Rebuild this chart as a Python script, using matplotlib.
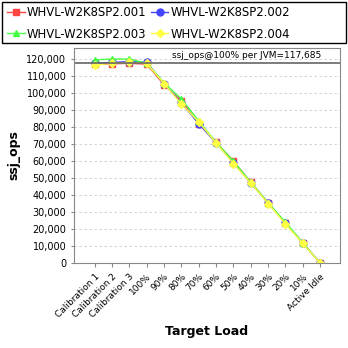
import matplotlib
matplotlib.use("Agg")
import matplotlib.pyplot as plt
from matplotlib.patches import Rectangle
from matplotlib.ticker import FuncFormatter

categories = ["Calibration 1", "Calibration 2", "Calibration 3", "100%", "90%", "80%",
              "70%", "60%", "50%", "40%", "30%", "20%", "10%", "Active Idle"]

ops_001 = [116800, 117200, 117500, 117000, 104800, 95300, 82000, 71000, 60000, 47500, 35500, 23500, 11800, 0]
ops_002 = [117500, 118000, 118500, 118000, 105500, 94000, 82000, 70500, 59000, 47000, 35300, 23500, 11800, 0]
ops_003 = [119500, 120000, 120000, 117500, 106000, 96500, 83500, 71000, 60000, 47500, 35500, 24000, 12000, 0]
ops_004 = [116500, 117500, 118000, 117500, 105500, 93500, 83000, 70500, 58500, 47000, 35000, 23000, 11500, 0]

series_names = ["WHVL-W2K8SP2.001", "WHVL-W2K8SP2.002", "WHVL-W2K8SP2.003", "WHVL-W2K8SP2.004"]
series_colors = ["#ff4444", "#4444ff", "#44ff44", "#ffff44"]
series_markers = ["s", "o", "^", "D"]
per_jvm = 117685

fig = plt.figure(figsize=(3.48, 3.48), dpi=100)
ax = fig.add_axes([74 / 348, 1 - 263 / 348, 266 / 348, 215 / 348])

x = list(range(len(categories)))
handles = []
for vals, name, col, mk in zip([ops_001, ops_002, ops_003, ops_004], series_names, series_colors, series_markers):
    ms = 4 if mk == "D" else 5
    h, = ax.plot(x, vals, color=col, marker=mk, markersize=ms, linewidth=1, label=name)
    handles.append(h)

ax.axhline(per_jvm, color="#666666", linewidth=1.2)
ax.text(13.05, per_jvm + 1500, "ssj_ops@100% per JVM=117,685", ha="right", va="bottom", fontsize=6.5)

ax.set_xlim(-1.2, 14.15)
ax.set_ylim(0, 126500)
ax.set_yticks(range(0, 120001, 10000))
ax.yaxis.set_major_formatter(FuncFormatter(lambda v, p: f"{int(v):,}"))
ax.set_xticks(x)
ax.set_xticklabels(categories, rotation=45, ha="right", rotation_mode="anchor", fontsize=6.5)
ax.tick_params(axis="y", labelsize=7, length=2, color="#888888")
ax.tick_params(axis="x", length=3, color="#888888")
ax.grid(True, axis="y", color="#cccccc", linestyle=(0, (3, 3)), linewidth=0.6)
for sp in ax.spines.values():
    sp.set_color("#888888")

ax.set_ylabel("ssj_ops", fontsize=9, fontweight="bold")
ax.set_xlabel("Target Load", fontsize=9, fontweight="bold")

# legend: row order 001 002 / 003 004 (matplotlib fills by column)
order = [0, 2, 1, 3]
fig.legend([handles[i] for i in order], [series_names[i] for i in order],
           loc="upper left", bbox_to_anchor=(-2 / 348, 1 + 3 / 348), ncol=2, fontsize=8.4,
           frameon=False, columnspacing=0.4, handlelength=1.5, handletextpad=0.15,
           borderpad=0.3, labelspacing=0.7)
fig.patches.append(Rectangle((2 / 348, 1 - 43 / 348), 344 / 348, 41 / 348, transform=fig.transFigure,
                             fill=False, edgecolor="black", linewidth=1))

fig.savefig("out.png", dpi=100)
